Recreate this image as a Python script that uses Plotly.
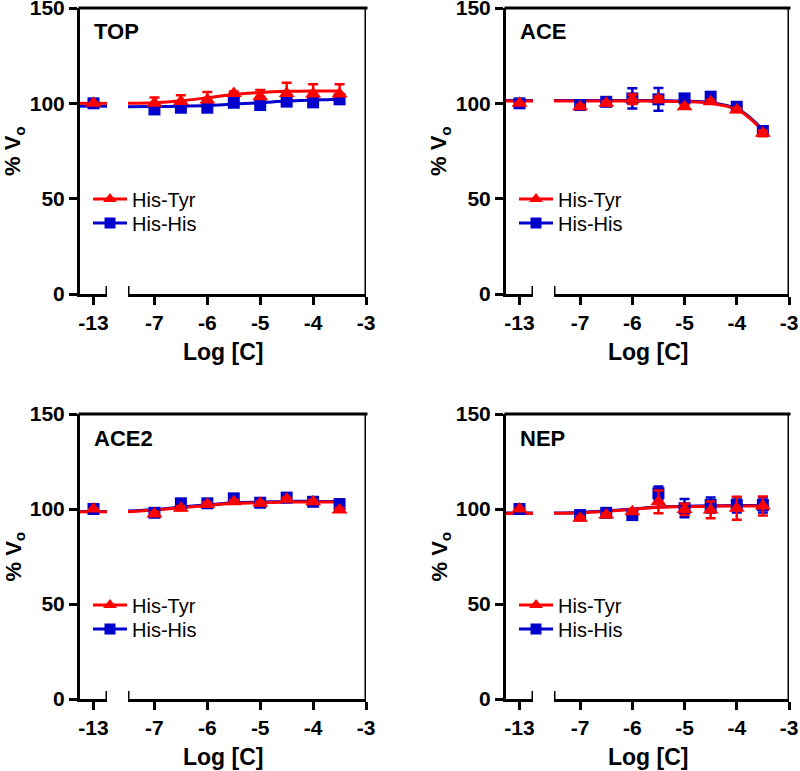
import plotly.graph_objects as go

W, H = 800, 771

# ---------------- data ----------------
panels = ["TOP", "ACE", "ACE2", "NEP"]
x_points = [-13, -7, -6.5, -6, -5.5, -5, -4.5, -4, -3.5]
x_curve = [-7.5, -7, -6.5, -6, -5.5, -5, -4.5, -4, -3.75, -3.5]
x_curve_ctrl = [-13.25, -12.75]

tyr_mean = {
    "TOP":  [100, 100.0, 100.9, 101.7, 105.2, 103.5, 105.2, 104.9, 104.9],
    "ACE":  [100, 98.2, 100.0, 102.1, 102.1, 98.2, 100.8, 96.5, 84.3],
    "ACE2": [100, 97.4, 100.4, 102.5, 103.8, 103.0, 105.1, 103.8, 99.5],
    "NEP":  [100, 95.1, 96.8, 98.6, 103.8, 99.8, 99.5, 100.4, 101.6],
}
tyr_err_up = {
    "TOP":  [0, 3.1, 3.4, 4.3, 1.0, 3.5, 5.6, 5.1, 5.1],
    "ACE":  [0, 1.0, 1.0, 2.5, 1.5, 1.0, 1.0, 1.0, 1.5],
    "ACE2": [0, 1.0, 1.0, 1.0, 1.0, 1.0, 1.0, 1.0, 1.0],
    "NEP":  [0, 1.0, 1.0, 1.0, 6.0, 3.0, 4.4, 6.0, 5.0],
}
tyr_err_down = {
    "TOP":  [0, 0, 0, 0, 0, 0, 0, 0, 0],
    "ACE":  [0, 1.0, 1.0, 2.5, 1.5, 1.0, 1.0, 1.0, 1.5],
    "ACE2": [0, 1.0, 1.0, 1.0, 1.0, 1.0, 1.0, 1.0, 1.0],
    "NEP":  [0, 1.0, 1.0, 1.0, 6.0, 3.0, 4.4, 6.0, 5.0],
}
his_mean = {
    "TOP":  [100, 96.8, 97.7, 97.7, 100.3, 99.1, 100.9, 100.5, 102.1],
    "ACE":  [100, 99.1, 100.8, 102.6, 102.1, 102.6, 103.5, 98.2, 85.5],
    "ACE2": [100, 98.0, 103.0, 103.0, 105.6, 103.3, 106.0, 103.8, 102.6],
    "NEP":  [100, 96.8, 98.0, 96.8, 108.3, 100.4, 102.1, 102.1, 102.1],
}
his_err_up = {
    "TOP":  [0, 1.0, 1.0, 1.0, 1.0, 1.0, 1.0, 1.0, 1.0],
    "ACE":  [0, 1.0, 1.0, 5.3, 6.0, 1.5, 1.0, 1.0, 1.0],
    "ACE2": [0, 1.0, 1.0, 1.0, 1.0, 1.0, 1.0, 1.0, 1.0],
    "NEP":  [0, 1.0, 1.0, 1.0, 3.5, 4.8, 4.0, 4.0, 4.0],
}
his_err_down = his_err_up

tyr_curve = {
    "TOP":  [100.0, 100.3, 101.3, 102.9, 104.6, 105.7, 106.3, 106.5, 106.5, 106.5],
    "ACE":  [101.2, 101.2, 101.2, 101.2, 101.1, 100.9, 100.0, 96.8, 92.1, 85.5],
    "ACE2": [98.6, 99.5, 100.7, 101.9, 103.0, 103.3, 103.7, 103.7, 103.7, 103.7],
    "NEP":  [97.7, 98.0, 98.8, 99.8, 100.9, 101.2, 101.5, 101.6, 101.6, 101.6],
}
his_curve = {
    "TOP":  [98.2, 98.3, 98.5, 98.8, 99.6, 100.3, 101.2, 101.7, 101.9, 102.1],
    "ACE":  [101.5, 101.5, 101.5, 101.5, 101.4, 101.2, 100.4, 97.2, 92.6, 86.0],
    "ACE2": [98.9, 99.8, 101.0, 102.2, 103.3, 103.6, 104.0, 104.0, 104.0, 104.0],
    "NEP":  [97.9, 98.2, 99.0, 100.0, 101.1, 101.4, 101.7, 101.8, 101.8, 101.8],
}
tyr_curve_ctrl = {"TOP": 100.0, "ACE": 101.2, "ACE2": 98.5, "NEP": 97.7}
his_curve_ctrl = {"TOP": 98.5, "ACE": 101.5, "ACE2": 98.7, "NEP": 97.9}

x_ticks_ctrl = [-13]
x_ticks_main = [-7, -6, -5, -4, -3]
y_ticks = [0, 50, 100, 150]
series_names = ["His-Tyr", "His-His"]

RED = "#FF0000"
BLUE = "#0000CC"
FONT = "Liberation Sans"

# ---------------- geometry (pixels) ----------------
col_px = [80, 506]
col_end = [366, 789]
row_px = [(8, 294), (414, 699)]
SEG1 = 27
GAP = 21


def fx(p):
    return p / W


def fy(p):
    return 1 - p / H


fig = go.Figure()
layout = dict(
    width=W, height=H, margin=dict(l=0, r=0, t=0, b=0, autoexpand=False),
    paper_bgcolor="white", plot_bgcolor="white", showlegend=True,
    font=dict(family=FONT, color="black"),
)
shapes = []
annotations = []

for i, name in enumerate(panels):
    r, c = divmod(i, 2)
    ax0 = col_px[c]
    ax1 = ax0 + SEG1
    bx0 = ax1 + GAP
    bx1 = col_end[c]
    top, bot = row_px[r]
    xa, xb, ya = f"x{2*i+1}", f"x{2*i+2}", f"y{i+1}"
    xa_key, xb_key, ya_key = f"xaxis{2*i+1}", f"xaxis{2*i+2}", f"yaxis{i+1}"

    axis_common = dict(showline=True, linewidth=3, linecolor="black", ticks="outside",
                       ticklen=8, tickwidth=3, tickcolor="black", showgrid=False,
                       zeroline=False, fixedrange=True, automargin=False,
                       ticklabeloverflow="allow",
                       tickfont=dict(family=FONT, size=21, color="black", weight="bold"))
    layout[xa_key] = dict(axis_common, domain=[fx(ax0), fx(ax1)], range=[-13.25, -12.75],
                          anchor=ya, tickvals=x_ticks_ctrl, ticktext=[str(v) for v in x_ticks_ctrl])
    layout[xb_key] = dict(axis_common, domain=[fx(bx0), fx(bx1)], range=[-7.5, -3],
                          anchor=ya, tickvals=x_ticks_main, ticktext=[str(v) for v in x_ticks_main])
    layout[ya_key] = dict(axis_common, domain=[fy(bot), fy(top)], range=[0, 150],
                          anchor=xa, tickvals=y_ticks)

    # fitted curves
    for curve, ctrl, col in [(his_curve, his_curve_ctrl, BLUE), (tyr_curve, tyr_curve_ctrl, RED)]:
        fig.add_trace(go.Scatter(x=x_curve_ctrl, y=[ctrl[name]] * len(x_curve_ctrl), mode="lines",
                                 line=dict(color=col, width=3), xaxis=xa, yaxis=ya,
                                 showlegend=False, hoverinfo="skip"))
        fig.add_trace(go.Scatter(x=x_curve, y=curve[name], mode="lines", line_shape="spline",
                                 line=dict(color=col, width=3), xaxis=xb, yaxis=ya,
                                 showlegend=False, hoverinfo="skip"))

    # data points with error bars
    for mean, up, down, col, sym, size in [
        (his_mean, his_err_up, his_err_down, BLUE, "square", 12),
        (tyr_mean, tyr_err_up, tyr_err_down, RED, "triangle-up", 14),
    ]:
        for xaxis_name, sel in [(xa, lambda v: v < -10), (xb, lambda v: v >= -10)]:
            idx = [k for k, v in enumerate(x_points) if sel(v)]
            fig.add_trace(go.Scatter(
                x=[x_points[k] for k in idx], y=[mean[name][k] for k in idx],
                mode="markers", marker=dict(symbol=sym, size=size, color=col, line=dict(width=0)),
                error_y=dict(type="data", symmetric=False,
                             array=[up[name][k] for k in idx],
                             arrayminus=[down[name][k] for k in idx],
                             color=col, thickness=2.5, width=5),
                xaxis=xaxis_name, yaxis=ya, showlegend=False, cliponaxis=False))

    # legend entries: one legend per entry for exact placement
    for j, (sname, col, sym, size) in enumerate([(series_names[0], RED, "triangle-up", 12),
                                                 (series_names[1], BLUE, "square", 11)]):
        n = 2 * i + j + 1
        leg = "legend" if n == 1 else f"legend{n}"
        fig.add_trace(go.Scatter(x=[None], y=[None], mode="lines+markers", name=sname,
                                 line=dict(color=col, width=3),
                                 marker=dict(symbol=sym, size=size, color=col),
                                 xaxis=xb, yaxis=ya, legend=leg, showlegend=True))
        layout[leg] = dict(x=fx(ax0 + 8), y=fy(top + 191 + 24 * j), xanchor="left", yanchor="middle",
                           bgcolor="rgba(0,0,0,0)", borderwidth=0, itemwidth=34,
                           font=dict(family=FONT, size=20, color="black"),
                           itemclick=False, itemdoubleclick=False)

    # frame: top and right lines
    shapes.append(dict(type="line", xref="paper", yref="paper", x0=fx(ax0 - 1.5), x1=fx(bx1 + 1.5),
                       y0=fy(top), y1=fy(top), line=dict(color="black", width=3)))
    shapes.append(dict(type="line", xref=xb, yref=ya, x0=-3, x1=-3, y0=0, y1=150,
                       line=dict(color="black", width=3)))
    # axis break caps
    for xref, xv in [(xa, -12.75), (xb, -7.5)]:
        shapes.append(dict(type="line", xref=xref, yref=ya, x0=xv, x1=xv,
                           ysizemode="pixel", yanchor=0, y0=-8, y1=8,
                           line=dict(color="black", width=3)))

    # texts
    annotations.append(dict(text=f"<b>{name}</b>", x=fx(ax0 + 12), y=fy(top + 24), xref="paper",
                            yref="paper", xanchor="left", yanchor="middle", showarrow=False,
                            font=dict(family=FONT, size=22, color="black")))
    annotations.append(dict(text="<b>% V<sub>o</sub></b>", x=fx(ax0 - 66), y=fy((top + bot) / 2),
                            xref="paper", yref="paper", xanchor="center", yanchor="middle",
                            textangle=-90, showarrow=False,
                            font=dict(family=FONT, size=22, color="black")))
    annotations.append(dict(text="<b>Log [C]</b>", x=fx((ax0 + bx1) / 2), y=fy(bot + 58),
                            xref="paper", yref="paper", xanchor="center", yanchor="middle",
                            showarrow=False, font=dict(family=FONT, size=23, color="black")))

layout["shapes"] = shapes
layout["annotations"] = annotations
fig.update_layout(**layout)
fig.write_html("out.html", config={"displayModeBar": False},
               post_script="document.body.style.margin='0';document.body.style.overflow='hidden';")
